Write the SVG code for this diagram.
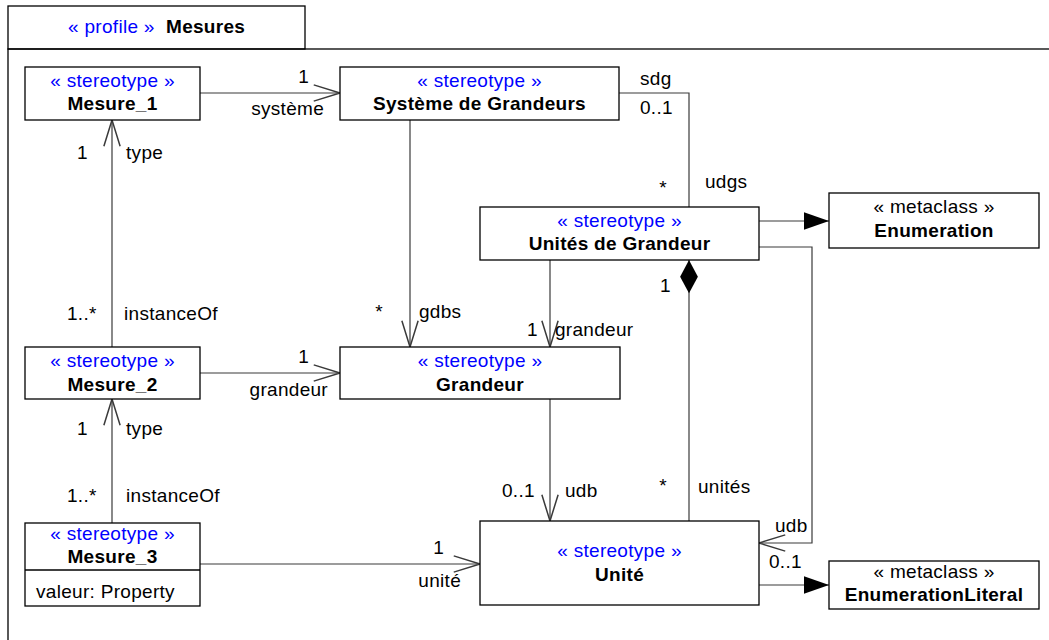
<svg xmlns="http://www.w3.org/2000/svg" width="1049" height="640" viewBox="0 0 1049 640">
<defs>
<style>
text{font-family:"Liberation Sans",Arial,sans-serif;font-size:19px;letter-spacing:0.3px;fill:#000}
.st{fill:#0000ff;text-anchor:middle}
.mc{text-anchor:middle}
.nm{font-weight:bold;text-anchor:middle}
.box{fill:#fff;stroke:#000;stroke-width:1.3}
.ln{fill:none;stroke:#3a3a3a;stroke-width:1.2}
.end{text-anchor:end}
</style>
<marker id="open" markerUnits="userSpaceOnUse" markerWidth="30" markerHeight="20" viewBox="-23 -8 24 16" refX="0" refY="0" orient="auto">
<path d="M-21,-6.5 L0,0 L-21,6.5" fill="none" stroke="#3a3a3a" stroke-width="1.2"/>
</marker>
<marker id="tri" markerUnits="userSpaceOnUse" markerWidth="30" markerHeight="20" viewBox="-22 -8 23 16" refX="0" refY="0" orient="auto">
<path d="M-20,-7 L0,0 L-20,7 Z" fill="#000"/>
</marker>
<marker id="dia" markerUnits="userSpaceOnUse" markerWidth="40" markerHeight="20" viewBox="-1 -9 32 18" refX="0" refY="0" orient="auto">
<path d="M0,0 L15,-8 L30,0 L15,8 Z" fill="#000"/>
</marker>
</defs>
<rect width="1049" height="640" fill="#fff"/>
<g id="package">
<rect x="8" y="49" width="1100" height="700" fill="none" stroke="#000" stroke-width="1.3"/>
<rect x="8" y="6" width="297" height="43" fill="none" stroke="#000" stroke-width="1.3"/>
<text x="68" y="33" style="fill:#0000ff">« profile »</text>
<text x="166" y="33" font-weight="bold">Mesures</text>
</g>
<g id="connectors">
<path class="ln" d="M200,93 H340" marker-end="url(#open)"/>
<path class="ln" d="M619,93 H689 V207"/>
<path class="ln" d="M410,120 V347" marker-end="url(#open)"/>
<path class="ln" d="M550,260 V347" marker-end="url(#open)"/>
<path class="ln" d="M689,260 V521" marker-start="url(#dia)"/>
<path class="ln" d="M759,221 H829" marker-end="url(#tri)"/>
<path class="ln" d="M759,247 H812 V543 H759" marker-end="url(#open)"/>
<path class="ln" d="M112,347 V120" marker-end="url(#open)"/>
<path class="ln" d="M200,373 H340" marker-end="url(#open)"/>
<path class="ln" d="M112,523 V399" marker-end="url(#open)"/>
<path class="ln" d="M550,399 V521" marker-end="url(#open)"/>
<path class="ln" d="M200,564 H480" marker-end="url(#open)"/>
<path class="ln" d="M759,585 H829" marker-end="url(#tri)"/>
<text class="end" x="309" y="83">1</text>
<text class="end" x="324" y="115">système</text>
<text x="640" y="85">sdg</text>
<text x="640" y="114">0..1</text>
<text class="mc" x="663" y="194">*</text>
<text x="705" y="188">udgs</text>
<text class="mc" x="379" y="318">*</text>
<text x="419" y="318">gdbs</text>
<text x="527" y="336">1</text>
<text x="555" y="336">grandeur</text>
<text x="660" y="292">1</text>
<text class="mc" x="663" y="492">*</text>
<text x="698" y="493">unités</text>
<text x="502" y="497">0..1</text>
<text x="565" y="497">udb</text>
<text x="775" y="532">udb</text>
<text x="769" y="568">0..1</text>
<text x="77" y="159">1</text>
<text x="126" y="159">type</text>
<text x="67" y="320">1..*</text>
<text x="124" y="320">instanceOf</text>
<text x="77" y="435">1</text>
<text x="126" y="435">type</text>
<text x="67" y="502">1..*</text>
<text x="126" y="502">instanceOf</text>
<text class="end" x="309" y="363">1</text>
<text class="end" x="328" y="396">grandeur</text>
<text class="end" x="444" y="554">1</text>
<text class="end" x="461" y="587">unité</text>
</g>
<g id="mesure1">
<rect class="box" x="25" y="67" width="175" height="53"/>
<text class="st" x="112.5" y="87">« stereotype »</text>
<text class="nm" x="112.5" y="110">Mesure_1</text>
</g>
<g id="systeme">
<rect class="box" x="340" y="67" width="279" height="53"/>
<text class="st" x="479.5" y="87">« stereotype »</text>
<text class="nm" x="479.5" y="110">Système de Grandeurs</text>
</g>
<g id="unitesDeGrandeur">
<rect class="box" x="480" y="207" width="279" height="53"/>
<text class="st" x="619.5" y="227">« stereotype »</text>
<text class="nm" x="619.5" y="250">Unités de Grandeur</text>
</g>
<g id="enumeration">
<rect class="box" x="829" y="193" width="210" height="55"/>
<text class="mc" x="934" y="213">« metaclass »</text>
<text class="nm" x="934" y="237">Enumeration</text>
</g>
<g id="grandeur">
<rect class="box" x="340" y="347" width="280" height="52"/>
<text class="st" x="480" y="367">« stereotype »</text>
<text class="nm" x="480" y="391">Grandeur</text>
</g>
<g id="mesure2">
<rect class="box" x="25" y="347" width="175" height="52"/>
<text class="st" x="112.5" y="367">« stereotype »</text>
<text class="nm" x="112.5" y="391">Mesure_2</text>
</g>
<g id="mesure3">
<rect class="box" x="25" y="523" width="175" height="83"/>
<line x1="25" y1="570" x2="200" y2="570" stroke="#000" stroke-width="1.3"/>
<text class="st" x="112.5" y="540">« stereotype »</text>
<text class="nm" x="112.5" y="563">Mesure_3</text>
<text x="36" y="598">valeur: Property</text>
</g>
<g id="unite">
<rect class="box" x="480" y="521" width="279" height="84"/>
<text class="st" x="619.5" y="557">« stereotype »</text>
<text class="nm" x="619.5" y="581">Unité</text>
</g>
<g id="enumerationLiteral">
<rect class="box" x="829" y="561" width="210" height="48"/>
<text class="mc" x="934" y="578">« metaclass »</text>
<text class="nm" x="934" y="601">EnumerationLiteral</text>
</g>
</svg>
